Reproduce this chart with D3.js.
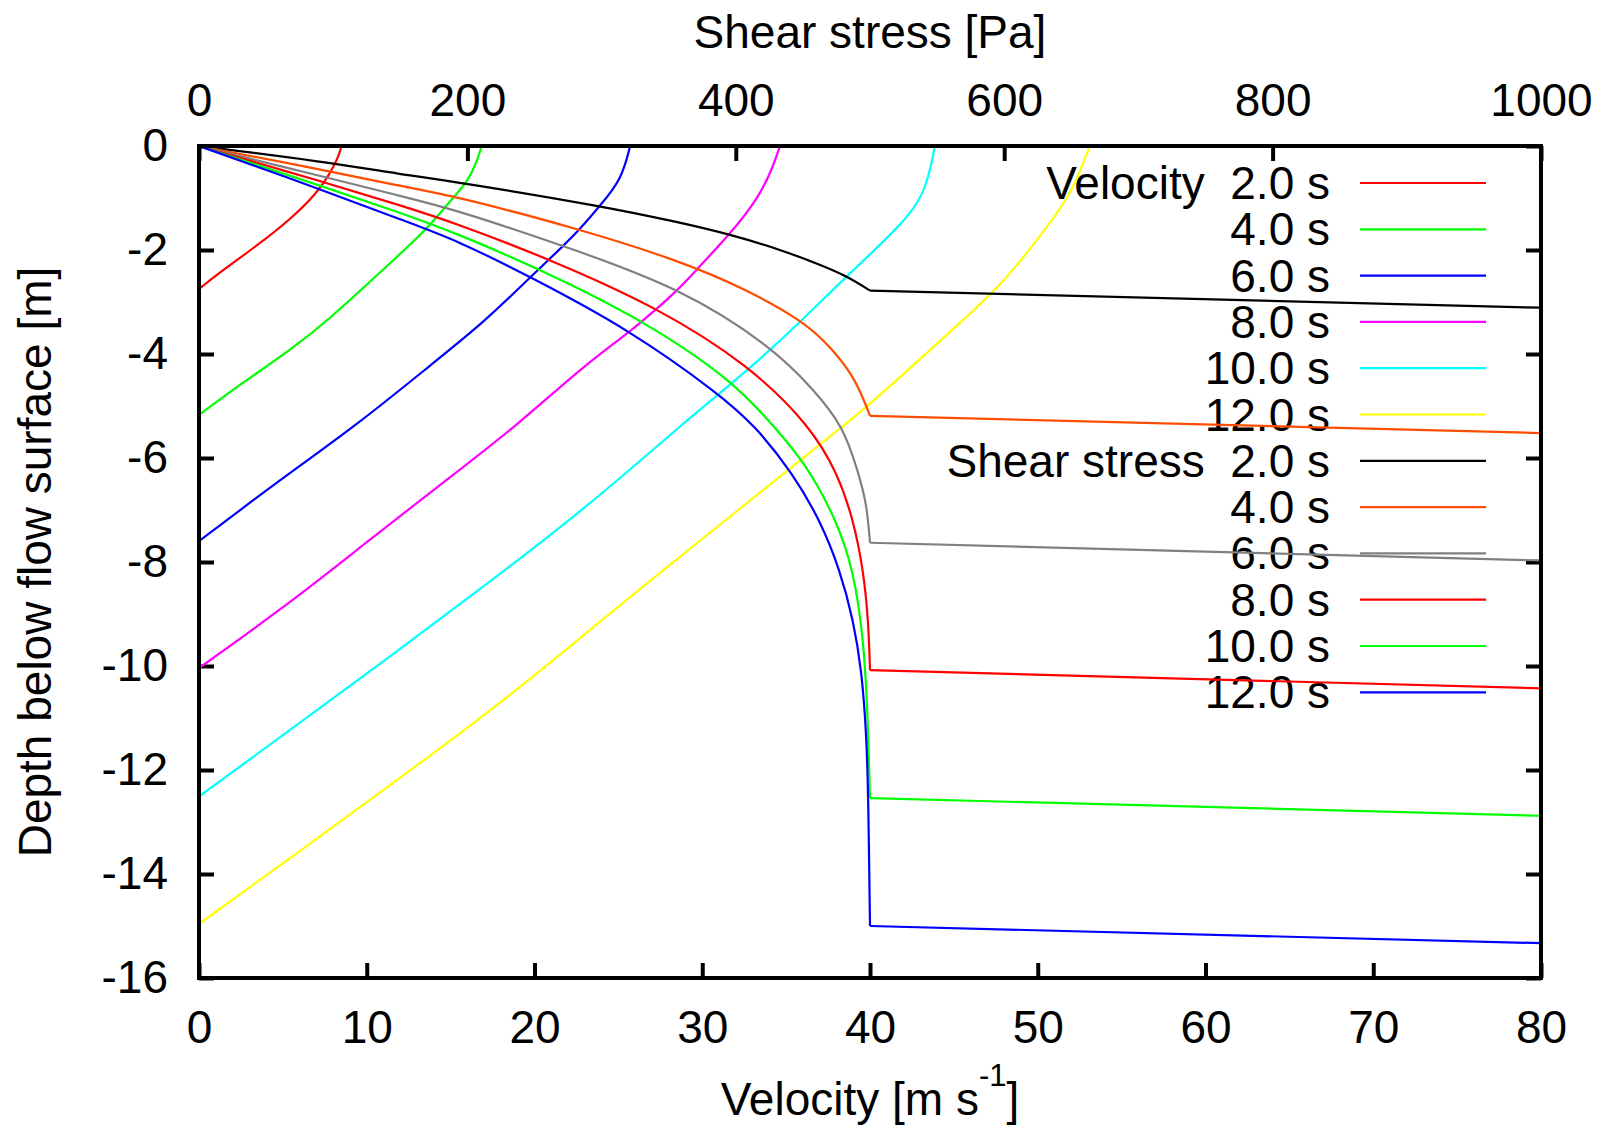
<!DOCTYPE html>
<html>
<head>
<meta charset="utf-8">
<script src="https://cdn.jsdelivr.net/npm/d3@7"></script>
<style>
  body { margin: 0; background: #fff; }
  text { font-family: "Liberation Sans", Arial, sans-serif; fill: #000; }
</style>
</head>
<body>
<div id="chart"></div>
<script>
// tick values
var velocityTicks = [0, 10, 20, 30, 40, 50, 60, 70, 80];
var stressTicks = [0, 200, 400, 600, 800, 1000];
var depthTicks = [0, -2, -4, -6, -8, -10, -12, -14, -16];

var times = ["2.0 s", "4.0 s", "6.0 s", "8.0 s", "10.0 s", "12.0 s"];

// velocity profiles [velocity m/s, depth m]
var vel2 = [[0,-2.75],[1.45,-2.38],[3.44,-1.92],[5.42,-1.42],[7.02,-0.91],[7.81,-0.53],[8.31,-0.21],[8.5,0]];
var vel4 = [[0,-5.17],[1.45,-4.82],[3.44,-4.37],[5.42,-3.92],[7.41,-3.44],[11.98,-2.08],[13.47,-1.63],[14.56,-1.22],[15.16,-0.99],[15.96,-0.71],[16.55,-0.32],[16.85,0]];
var vel6 = [[0,-7.6],[4.83,-6.42],[9.4,-5.37],[13.97,-4.17],[16.95,-3.40],[19.73,-2.53],[21.72,-1.92],[22.71,-1.6],[23.9,-1.15],[25.2,-0.64],[25.7,0]];
var vel8 = [[0,-10.04],[5.42,-8.79],[9.79,-7.67],[14.76,-6.42],[18.94,-5.38],[22.91,-4.23],[25.89,-3.53],[28.67,-2.74],[29.67,-2.37],[31.65,-1.70],[33.44,-0.96],[34.24,-0.38],[34.63,0]];
var vel10 = [[0,-12.51],[5.42,-11.23],[11.39,-9.82],[17.35,-8.38],[23.31,-6.9],[28.67,-5.38],[33.04,-4.23],[36.02,-3.33],[38.61,-2.5],[42.68,-1.28],[43.38,-0.71],[43.68,-0.32],[43.87,0]];
var vel12 = [[0,-14.96],[5.42,-13.7],[11.39,-12.29],[17.35,-10.88],[23.31,-9.31],[26.29,-8.51],[34.63,-6.36],[38.41,-5.38],[39.9,-5.0],[45.37,-3.40],[47.95,-2.64],[50.73,-1.49],[52.1,-0.85],[53.1,0]];

// shear stress profiles [stress Pa, depth m] inside the flow
var tau2 = [[0,0],[92.6,-0.30],[149.8,-0.54],[192,-0.69],[298.8,-1.15],[358.4,-1.47],[395.7,-1.70],[432.9,-1.99],[462.7,-2.28],[482.6,-2.50],[500,-2.78]];
var tau4 = [[0,0],[92.6,-0.46],[149.8,-0.77],[192,-0.97],[283.9,-1.6],[358.4,-2.21],[408.1,-2.76],[450.3,-3.37],[470.2,-3.85],[487.6,-4.42],[496.3,-4.94],[500,-5.19]];
var tau6 = [[0,0],[92.6,-0.59],[149.8,-0.96],[192,-1.23],[271.5,-1.92],[358.4,-2.72],[427.9,-3.88],[457.7,-4.68],[480.1,-5.38],[491.5,-6.3],[497.5,-6.87],[500,-7.63]];
var tau8 = [[0,0],[92.6,-0.69],[149.8,-1.14],[192,-1.49],[261.5,-2.18],[342.3,-3.11],[410.6,-4.23],[455.3,-5.38],[476,-6.3],[487.6,-7.19],[495,-8.15],[498.8,-9.12],[500,-10.08]];
var tau10 = [[0,0],[92.6,-0.78],[149.8,-1.28],[192,-1.68],[254.1,-2.37],[331.1,-3.35],[398.1,-4.52],[427.9,-5.38],[452,-6.1],[475,-7.19],[487.6,-8.15],[495,-9.44],[498,-10.72],[500,-12.54]];
var tau12 = [[0,0],[92.6,-0.85],[149.8,-1.41],[192,-1.81],[247.9,-2.53],[321.2,-3.54],[388.2,-4.78],[414.3,-5.38],[442,-6.28],[462.7,-7.19],[477.6,-8.15],[487.6,-9.12],[493.8,-10.08],[497.5,-11.36],[498.8,-12.64],[500,-15.0]];
// below the flow (bed)
var bed2 = [[500,-2.78],[1000,-3.11]];
var bed4 = [[500,-5.19],[1000,-5.52]];
var bed6 = [[500,-7.63],[1000,-7.97]];
var bed8 = [[500,-10.08],[1000,-10.43]];
var bed10 = [[500,-12.54],[1000,-12.88]];
var bed12 = [[500,-15.0],[1000,-15.33]];

var velColors = ["#ff0000", "#00ff00", "#0000ff", "#ff00ff", "#00ffff", "#ffff00"];
var tauColors = ["#000000", "#ff4d00", "#808080", "#ff0000", "#00ff00", "#0000ff"];

var velSeries = [vel2, vel4, vel6, vel8, vel10, vel12];
var tauSeries = [tau2, tau4, tau6, tau8, tau10, tau12];
var bedSeries = [bed2, bed4, bed6, bed8, bed10, bed12];

var width = 1611, height = 1126;
// plot box ("top" is taken on window, so prefix them)
var pLeft = 199, pRight = 1541, pTop = 146, pBottom = 978;
var fontSize = 46;

var svg = d3.select("#chart").append("svg")
    .attr("width", width)
    .attr("height", height);

var x = d3.scaleLinear().domain([0, 80]).range([pLeft, pRight]);
var x2 = d3.scaleLinear().domain([0, 1000]).range([pLeft, pRight]);
var y = d3.scaleLinear().domain([-16, 0]).range([pBottom, pTop]);

function styleAxis(g) {
    g.select(".domain").remove();
    g.selectAll(".tick line").attr("stroke", "#000").attr("stroke-width", 4);
    g.selectAll(".tick text").attr("font-size", fontSize)
        .attr("font-family", "Liberation Sans, Arial, sans-serif");
}

var plain = d => String(d);   // gnuplot style: hyphen minus, no thousands comma

svg.append("g")
    .attr("transform", "translate(0," + pBottom + ")")
    .call(d3.axisBottom(x).tickValues(velocityTicks).tickFormat(plain)
        .tickSizeInner(-15).tickSizeOuter(0).tickPadding(32))
    .call(styleAxis);

svg.append("g")
    .attr("transform", "translate(0," + pTop + ")")
    .call(d3.axisTop(x2).tickValues(stressTicks).tickFormat(plain)
        .tickSizeInner(-15).tickSizeOuter(0).tickPadding(30))
    .call(styleAxis);

svg.append("g")
    .attr("transform", "translate(" + pLeft + ",0)")
    .call(d3.axisLeft(y).tickValues(depthTicks).tickFormat(plain)
        .tickSizeInner(-15).tickSizeOuter(0).tickPadding(31))
    .call(styleAxis);

// right side: mirrored ticks only
svg.append("g")
    .attr("transform", "translate(" + pRight + ",0)")
    .call(d3.axisRight(y).tickValues(depthTicks).tickSizeInner(-15).tickSizeOuter(0).tickFormat(""))
    .call(styleAxis);

// axis titles
svg.append("text")
    .attr("x", (pLeft + pRight) / 2)
    .attr("y", 48)
    .attr("text-anchor", "middle")
    .attr("font-size", fontSize)
    .text("Shear stress [Pa]");

var xlab = svg.append("text")
    .attr("x", (pLeft + pRight) / 2)
    .attr("y", 1115)
    .attr("text-anchor", "middle")
    .attr("font-size", fontSize);
xlab.append("tspan").text("Velocity [m s");
xlab.append("tspan").attr("dy", -29).attr("font-size", 31).text("-1");
xlab.append("tspan").attr("dy", 29).text("]");

svg.append("text")
    .attr("transform", "translate(51," + (pTop + pBottom) / 2 + ") rotate(-90)")
    .attr("text-anchor", "middle")
    .attr("font-size", fontSize)
    .text("Depth below flow surface [m]");

// legend
var legendRows = [];
times.forEach(function(t, i) {
    legendRows.push({label: (i == 0 ? "Velocity  " : "") + t, color: velColors[i]});
});
times.forEach(function(t, i) {
    legendRows.push({label: (i == 0 ? "Shear stress  " : "") + t, color: tauColors[i]});
});

var legend = svg.append("g");
legendRows.forEach(function(r, i) {
    var ry = 183 + i * 46.3;
    legend.append("text")
        .attr("x", 1330)
        .attr("y", ry + 16)
        .attr("text-anchor", "end")
        .attr("font-size", fontSize)
        .style("white-space", "pre")
        .text(r.label);
    legend.append("line")
        .attr("x1", 1360).attr("x2", 1486)
        .attr("y1", ry).attr("y2", ry)
        .attr("stroke", r.color)
        .attr("stroke-width", 2.2);
});

// curves
svg.append("clipPath").attr("id", "plotclip")
    .append("rect")
    .attr("x", pLeft).attr("y", pTop)
    .attr("width", pRight - pLeft).attr("height", pBottom - pTop);

var plot = svg.append("g").attr("clip-path", "url(#plotclip)");

var velLine = d3.line()
    .x(d => x(d[0]))
    .y(d => y(d[1]))
    .curve(d3.curveBasis);

var tauLine = d3.line()
    .x(d => x2(d[0]))
    .y(d => y(d[1]))
    .curve(d3.curveBasis);

var bedLine = d3.line()
    .x(d => x2(d[0]))
    .y(d => y(d[1]));

velSeries.forEach(function(s, i) {
    plot.append("path")
        .attr("d", velLine(s))
        .attr("fill", "none")
        .attr("stroke", velColors[i])
        .attr("stroke-width", 2.2);
});

tauSeries.forEach(function(s, i) {
    plot.append("path")
        .attr("d", tauLine(s))
        .attr("fill", "none")
        .attr("stroke", tauColors[i])
        .attr("stroke-width", 2.2);
    plot.append("path")
        .attr("d", bedLine(bedSeries[i]))
        .attr("fill", "none")
        .attr("stroke", tauColors[i])
        .attr("stroke-width", 2.2);
});

// frame
svg.append("rect")
    .attr("x", pLeft).attr("y", pTop)
    .attr("width", pRight - pLeft).attr("height", pBottom - pTop)
    .attr("fill", "none")
    .attr("stroke", "#000")
    .attr("stroke-width", 4);
</script>
</body>
</html>
